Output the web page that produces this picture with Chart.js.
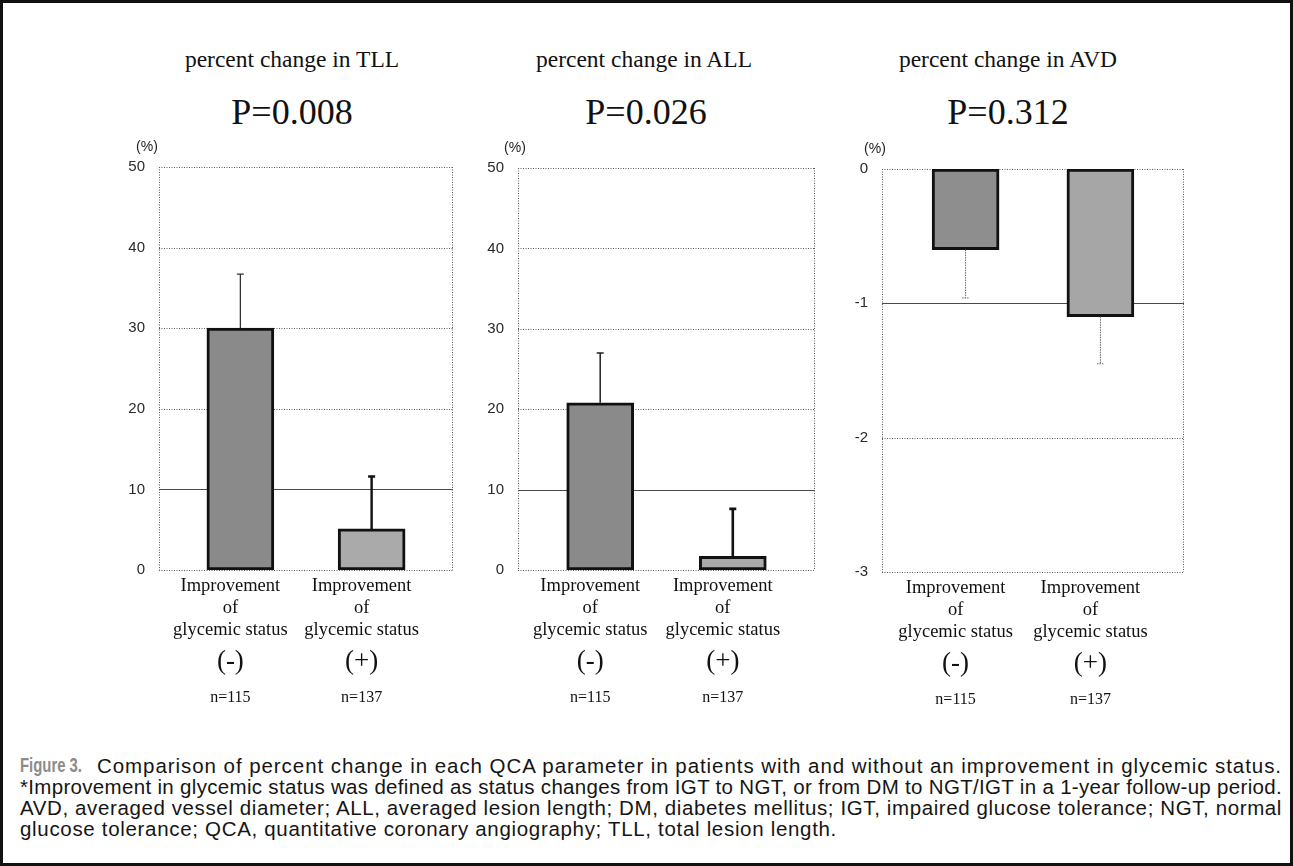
<!DOCTYPE html>
<html><head><meta charset="utf-8">
<script src="https://cdn.jsdelivr.net/npm/chart.js@4"></script>
<style>
html,body{margin:0;padding:0;background:#fff;}
#page{position:relative;width:1293px;height:866px;overflow:hidden;background:#fff;}
#frame{position:absolute;left:0;top:0;width:1293px;height:866px;border:3px solid #111;box-sizing:border-box;}
.t{position:absolute;font-family:"Liberation Serif",serif;color:#111;white-space:nowrap;transform:translate(-50%,-50%);line-height:1;}
canvas{position:absolute;}
.cap{position:absolute;font-family:"Liberation Sans",Arial,sans-serif;font-size:20.5px;color:#151515;white-space:nowrap;line-height:21px;}
.fig{position:absolute;left:0;top:0;font-weight:bold;color:#8c8c8c;font-size:20px;display:inline-block;transform-origin:0 50%;}
</style></head>
<body>
<div id="page">
  <div id="frame"></div>
  <div class="t" id="t0" style="left:292px;top:60px;font-size:23.5px;"></div>
  <div class="t" id="t1" style="left:644px;top:60px;font-size:23.5px;"></div>
  <div class="t" id="t2" style="left:1008px;top:60px;font-size:23.5px;"></div>
  <div class="t" id="p0" style="left:292px;top:112px;font-size:36px;"></div>
  <div class="t" id="p1" style="left:646px;top:112px;font-size:36px;"></div>
  <div class="t" id="p2" style="left:1008px;top:112px;font-size:36px;"></div>
  <canvas id="c0" width="370" height="580" style="left:100px;top:140px;width:370px;height:580px;"></canvas>
  <canvas id="c1" width="370" height="580" style="left:459px;top:140px;width:370px;height:580px;"></canvas>
  <canvas id="c2" width="380" height="582" style="left:823px;top:140px;width:380px;height:582px;"></canvas>
  <div class="cap" id="cap1" style="left:20px;top:755px;width:1262px;height:21px;"><span class="fig" id="fig">Figure 3.</span><span id="cap1b" style="position:absolute;left:77px;top:0;"></span></div>
  <div class="cap" id="cap2" style="left:20px;top:776px;"></div>
  <div class="cap" id="cap3" style="left:20px;top:797px;"></div>
  <div class="cap" id="cap4" style="left:20px;top:818px;"></div>
</div>
<script>
// ---------------- data ----------------
const categories = [["Improvement","of","glycemic status"],["Improvement","of","glycemic status"]];
const groupSigns = ["(-)","(+)"];
const groupN = ["n=115","n=137"];
const panelTitles = ["percent change in TLL","percent change in ALL","percent change in AVD"];
const pValues = ["P=0.008","P=0.026","P=0.312"];

const tllMeans = [30.0, 5.1];
const tllSD = [6.7, 6.5];
const allMeans = [20.8, 1.7];
const allSD = [6.2, 5.9];
const avdMeans = [-0.60, -1.10];
const avdSD = [0.36, 0.35];

const tllTicks = [0, 10, 20, 30, 40, 50];
const allTicks = [0, 10, 20, 30, 40, 50];
const avdTicks = [-3, -2, -1, 0];

const captionLines = [
  "Comparison of percent change in each QCA parameter in patients with and without an improvement in glycemic status.",
  "*Improvement in glycemic status was defined as status changes from IGT to NGT, or from DM to NGT/IGT in a 1-year follow-up period.",
  "AVD, averaged vessel diameter; ALL, averaged lesion length; DM, diabetes mellitus; IGT, impaired glucose tolerance; NGT, normal",
  "glucose tolerance; QCA, quantitative coronary angiography; TLL, total lesion length."
];

// ---------------- text ----------------
panelTitles.forEach((s,i)=>document.getElementById('t'+i).textContent=s);
pValues.forEach((s,i)=>document.getElementById('p'+i).textContent=s);
document.getElementById('cap1b').textContent = captionLines[0];
document.getElementById('cap2').textContent = captionLines[1];
document.getElementById('cap3').textContent = captionLines[2];
document.getElementById('cap4').textContent = captionLines[3];
function fitWidth(el, target){
  const n = el.textContent.length;
  el.style.letterSpacing = '0px';
  const w = el.getBoundingClientRect().width;
  el.style.letterSpacing = ((target - w) / n) + 'px';
}
fitWidth(document.getElementById('cap1b'), 1282-97);
fitWidth(document.getElementById('cap2'), 1282-20);
fitWidth(document.getElementById('cap3'), 1282-20);
fitWidth(document.getElementById('cap4'), 837-20);
(function(){
  const f = document.getElementById('fig');
  const w = f.getBoundingClientRect().width;
  f.style.transform = 'scaleX(' + (62 / w) + ')';
})();

// ---------------- plugins ----------------
const gridFrame = {
  id:'gridFrame',
  beforeDatasetsDraw(chart, args, o){
    const {ctx, chartArea:a, scales:{y}} = chart;
    ctx.save();
    ctx.lineWidth = 1;
    y.ticks.forEach(t=>{
      const py = Math.round(y.getPixelForValue(t.value)) + 0.5;
      if (t.value === o.solidAt){ ctx.setLineDash([]); ctx.strokeStyle = '#4a4a4a'; }
      else { ctx.setLineDash([1,1.5]); ctx.strokeStyle = '#5a5a5a'; }
      ctx.beginPath(); ctx.moveTo(a.left, py); ctx.lineTo(a.right, py); ctx.stroke();
    });
    ctx.setLineDash([1,1.5]); ctx.strokeStyle = '#5a5a5a';
    ctx.beginPath();
    ctx.moveTo(Math.round(a.left)+0.5, a.top); ctx.lineTo(Math.round(a.left)+0.5, a.bottom);
    ctx.moveTo(Math.round(a.right)-0.5, a.top); ctx.lineTo(Math.round(a.right)-0.5, a.bottom);
    ctx.stroke();
    ctx.restore();
  }
};
const errorBars = {
  id:'errorBars',
  afterDatasetsDraw(chart, args, o){
    const {ctx, scales:{y}} = chart;
    const meta = chart.getDatasetMeta(0);
    ctx.save();
    meta.data.forEach((el,i)=>{
      const v = o.means[i], sd = o.sds[i];
      const end = y.getPixelForValue(v + Math.sign(v)*sd);
      ctx.strokeStyle = o.colors[i];
      ctx.lineWidth = o.widths[i];
      ctx.setLineDash(o.dashed ? [1.5,1] : []);
      ctx.beginPath();
      ctx.moveTo(el.x, el.y); ctx.lineTo(el.x, end);
      ctx.moveTo(el.x-3.5, end); ctx.lineTo(el.x+3.5, end);
      ctx.stroke();
    });
    ctx.restore();
  }
};
const extraText = {
  id:'extraText',
  afterDraw(chart, args, o){
    const {ctx, chartArea:a, scales:{x}} = chart;
    ctx.save();
    ctx.fillStyle = '#222';
    ctx.textAlign = 'center'; ctx.textBaseline = 'middle';
    ctx.font = '14px "Liberation Sans", Arial, sans-serif';
    ctx.fillText('(%)', a.left + o.pctDx, a.top - 20);
    ctx.fillStyle = '#111';
    groupSigns.forEach((s,i)=>{
      const px = x.getPixelForValue(i) + o.labelOffset;
      ctx.font = '27px "Liberation Serif", serif';
      ctx.fillText(s, px, a.bottom + 92);
      ctx.font = '16px "Liberation Serif", serif';
      ctx.fillText(groupN[i], px, a.bottom + 128);
    });
    ctx.restore();
  }
};

function makePanel(id, means, sds, ticks, cfg){
  const ymin = ticks[0], ymax = ticks[ticks.length-1];
  return new Chart(document.getElementById(id), {
    type:'bar',
    data:{datasets:[{
      data: means.map((v,i)=>({x:i, y:v})),
      backgroundColor: cfg.fills,
      borderColor:'#111', borderWidth:3, borderSkipped:false,
      barThickness:67
    }]},
    options:{
      responsive:false, animation:false, events:[],
      layout:{padding:{top:cfg.padTop, right:cfg.padRight, left:0, bottom:0}},
      plugins:{
        legend:{display:false}, tooltip:{enabled:false},
        gridFrame:{solidAt:cfg.solidAt},
        errorBars:{means, sds, colors:cfg.errColors, widths:cfg.errWidths, dashed:cfg.errDashed},
        extraText:{pctDx:cfg.pctDx, labelOffset:-10}
      },
      scales:{
        x:{
          type:'linear', min:-0.62, max:1.62, offset:false,
          grid:{display:false, drawTicks:false}, border:{display:false},
          afterBuildTicks:s=>{ s.ticks = categories.map((c,i)=>({value:i})); },
          afterFit:s=>{ s.height = 150; },
          ticks:{
            autoSkip:false, maxRotation:0, minRotation:0, padding:5, labelOffset:-10,
            color:'#111', font:{family:'"Liberation Serif", serif', size:18.5, lineHeight:1.2},
            callback:(v,i)=>categories[i]
          }
        },
        y:{
          min:ymin, max:ymax,
          grid:{display:false, drawTicks:false}, border:{display:false},
          afterBuildTicks:s=>{ s.ticks = ticks.map(v=>({value:v})); },
          afterFit:s=>{ s.width = 59; },
          ticks:{padding:14, color:'#2a2a2a', font:{family:'"Liberation Sans", Arial, sans-serif', size:15}}
        }
      }
    },
    plugins:[gridFrame, errorBars, extraText]
  });
}

makePanel('c0', tllMeans, tllSD, tllTicks, {
  fills:['#8a8a8a','#aaaaaa'], padTop:27, padRight:17, solidAt:10,
  errColors:['#333','#111'], errWidths:[1.3,2.4], errDashed:false, pctDx:-12
});
makePanel('c1', allMeans, allSD, allTicks, {
  fills:['#8a8a8a','#aaaaaa'], padTop:28, padRight:14, solidAt:10,
  errColors:['#222','#111'], errWidths:[1.5,2.6], errDashed:false, pctDx:-3
});
makePanel('c2', avdMeans, avdSD, avdTicks, {
  fills:['#8e8e8e','#a6a6a6'], padTop:29, padRight:19, solidAt:-1,
  errColors:['#666','#666'], errWidths:[1,1], errDashed:true, pctDx:-7
});
</script>
</body></html>
